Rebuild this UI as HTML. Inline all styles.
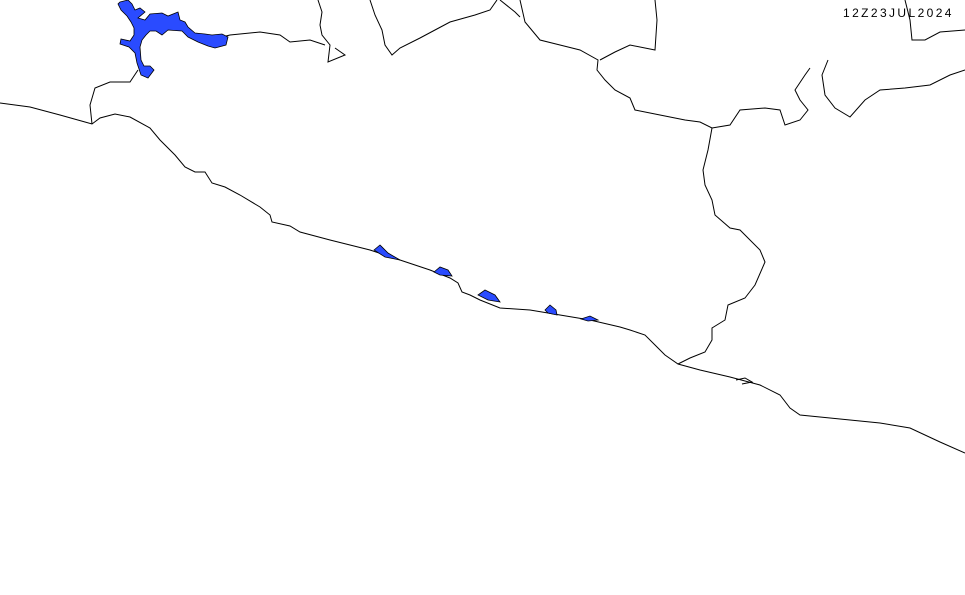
<!DOCTYPE html>
<html><head><meta charset="utf-8"><style>
html,body{margin:0;padding:0;background:#fff;}
svg{display:block;}
</style></head><body>
<svg width="965" height="595" viewBox="0 0 965 595" xmlns="http://www.w3.org/2000/svg">
<g fill="none" stroke="#000" stroke-width="1">
<polyline points="0,103 30,107 60,115 85,122 92,124 100,118 115,114 130,117 150,128 160,140 175,155 185,167 195,172 205,172 212,183 225,187 240,195 260,207 270,215 272,222 290,226 300,232 330,240 370,250 400,260 430,270 450,278 458,283 462,292 470,295 480,300 500,308 530,310 560,315 590,320 620,327 630,330 645,335 655,345 665,355 678,364 700,370 730,377 760,385 780,395 790,408 800,415 830,418 880,423 910,428 940,442 965,453"/>
<polyline points="678,364 690,358 705,352 712,340 712,328 725,320 728,305 745,298 755,285 765,262 760,250 740,230 730,228 715,215 712,200 705,185 703,170 708,150 712,128"/>
<polyline points="712,128 700,122 685,120 660,115 635,110 630,98 615,90 605,80 597,70 598,60 580,50 560,45 540,40 525,22 520,0"/>
<polyline points="712,128 730,125 740,110 765,108 780,110 785,125 800,120 808,110 800,100 795,90 805,75 810,68"/>
<polyline points="828,60 822,75 825,95 835,108 850,117 865,100 880,90 905,88 930,85 950,75 965,70"/>
<polyline points="370,0 375,15 382,30 385,45 392,55 400,48 420,38 435,30 450,22 475,15 490,10 497,0"/>
<polyline points="500,0 515,12 520,17"/>
<polyline points="655,0 657,20 655,50 630,45 615,52 600,60"/>
<polyline points="318,0 322,12 320,25 322,35 330,45 328,62 345,55 335,48"/>
<polyline points="92,124 90,105 95,88 110,82 130,82 138,70"/>
<polyline points="210,40 230,35 260,32 280,35 290,42 310,40 325,45"/>
<polyline points="905,0 910,20 912,40 925,40 940,32 965,30"/>
<polyline points="736,380 745,378 752,382 742,384"/>
</g>
<g fill="#2a4bff" stroke="#000" stroke-width="0.8">
<path d="M120,2 L128,0 L132,4 L135,10 L140,8 L145,12 L138,18 L145,20 L150,14 L162,13 L168,16 L178,12 L180,20 L185,22 L188,27 L195,33 L205,34 L212,35 L222,34 L228,37 L226,45 L215,48 L208,46 L198,42 L188,37 L182,31 L168,30 L162,35 L156,31 L150,31 L146,35 L142,40 L140,47 L141,60 L144,66 L150,66 L154,70 L148,78 L141,75 L137,63 L135,53 L129,47 L120,44 L121,39 L130,41 L134,35 L134,28 L131,22 L127,16 L121,10 L118,4 Z"/>
<path d="M374,250 L380,245 L388,253 L400,260 L385,257 Z"/>
<path d="M434,272 L440,267 L448,270 L452,276 L440,275 Z"/>
<path d="M478,295 L485,290 L495,295 L500,302 L488,300 Z"/>
<path d="M545,310 L550,305 L556,310 L557,315 L548,313 Z"/>
<path d="M581,319 L590,316 L598,320 L588,321 Z"/>
</g>
<text x="843" y="17" font-family="Liberation Sans, sans-serif" font-size="12" fill="#000" letter-spacing="2.4">12Z23JUL2024</text>
</svg>
</body></html>
